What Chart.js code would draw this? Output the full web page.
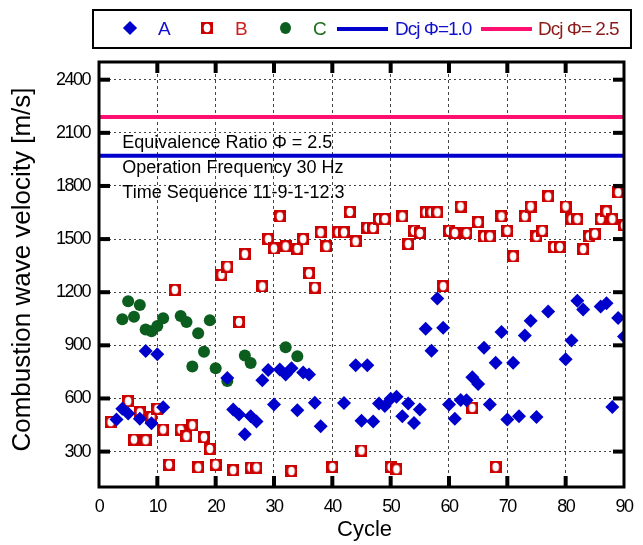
<!DOCTYPE html>
<html>
<head>
<meta charset="utf-8">
<script src="https://cdn.jsdelivr.net/npm/chart.js@4.4.1/dist/chart.umd.min.js"></script>
<style>
  body { margin: 0; background: #fff; }
  #wrap { position: relative; width: 643px; height: 545px; }
  #legend { position: absolute; left: 92px; top: 9px; width: 536px; height: 36px; border: 2px solid #000;
    font-family: "Liberation Sans", Arial, sans-serif; font-size: 19px; letter-spacing: -1px; }
  #legend span, #legend div { position: absolute; }
  #legend canvas { display: block; }
  .txt { top: 7px; line-height: 22px; white-space: nowrap; }
</style>
</head>
<body>
<div id="wrap">
  <canvas id="chart" width="643" height="545"></canvas>
  <div id="legend">
    <div style="left:31px;top:12px;width:10px;height:10px;background:#0000cc;transform:rotate(45deg);"></div>
    <span class="txt" style="left:64px;color:#1010cc;">A</span>
    <div id="legB" style="left:107px;top:11px;"></div>
    <span class="txt" style="left:141px;color:#cc2020;">B</span>
    <div style="left:186px;top:11px;width:11px;height:12px;border-radius:50%;background:#0b5e1e;"></div>
    <span class="txt" style="left:219px;color:#1a6e1a;">C</span>
    <div style="left:243px;top:16px;width:51px;height:4px;background:#0000cc;"></div>
    <span class="txt" style="left:301px;color:#1010cc;">Dcj &Phi;=1.0</span>
    <div style="left:387px;top:16px;width:51px;height:4px;background:#ff1070;"></div>
    <span class="txt" style="left:444px;color:#8b1a1a;">Dcj &Phi;= 2.5</span>
  </div>
</div>
<script>
const xTicks = [0, 10, 20, 30, 40, 50, 60, 70, 80, 90];
const yTicks = [300, 600, 900, 1200, 1500, 1800, 2100, 2400];

const cycleA = [3, 4, 5, 7, 8, 9, 10, 11, 22, 23, 24, 25, 26, 27, 28, 29, 30, 31, 32, 33, 34, 35, 36, 37, 38,
  42, 44, 45, 46, 47, 48, 49, 50, 51, 52, 53, 54, 55, 56, 57, 58, 59, 60, 61, 62, 63, 64, 65, 66, 67, 68, 69,
  70, 71, 72, 73, 74, 75, 77, 80, 81, 82, 83, 86, 87, 88, 89, 90];
const velA = [481, 542, 515, 485, 868, 460, 849, 550, 715, 538, 509, 398, 500, 470, 703, 761, 566, 764, 736, 770, 534, 747, 736, 576, 443,
  574, 787, 474, 787, 470, 572, 557, 598, 610, 500, 572, 462, 538, 994, 870, 1165, 1000, 566, 485, 592, 590, 720, 682, 887, 566, 801, 975,
  481, 802, 500, 956, 1039, 496, 1091, 822, 928, 1152, 1102, 1120, 1137, 552, 1055, 950];

const cycleB = [2, 5, 6, 7, 8, 9, 10, 11, 12, 13, 14, 15, 16, 17, 18, 19, 20, 21, 22, 23, 24, 25, 26, 27, 28, 29,
  30, 31, 32, 33, 34, 35, 36, 37, 38, 39, 40, 41, 42, 43, 44, 45, 46, 47, 48, 49, 50, 51, 52, 53, 54, 55, 56,
  57, 58, 59, 60, 61, 62, 63, 64, 65, 66, 67, 68, 69, 70, 71, 73, 74, 75, 76, 77, 78, 79, 80, 81, 82, 83, 84,
  85, 86, 87, 88, 89, 90];
const velB = [466, 585, 368, 522, 364, 496, 542, 424, 226, 1213, 424, 387, 449, 211, 381, 315, 226, 1298, 1345, 195, 1032, 1415, 210, 210, 1233, 1500,
  1447, 1628, 1459, 190, 1445, 1500, 1307, 1226, 1538, 1459, 213, 1538, 1538, 1653, 1487, 306, 1564, 1562, 1613, 1613, 213, 200, 1628, 1472, 1547, 1534, 1651,
  1651, 1651, 1234, 1547, 1534, 1684, 1534, 547, 1596, 1515, 1515, 213, 1628, 1547, 1402, 1628, 1684, 1515, 1547, 1741, 1455, 1455, 1684, 1613, 1613, 1443, 1515,
  1530, 1613, 1656, 1613, 1764, 1577];

const cycleC = [4, 5, 6, 7, 8, 9, 10, 11, 14, 15, 16, 17, 18, 19, 20, 22, 25, 26, 32, 34];
const velC = [1047, 1149, 1062, 1128, 989, 979, 1009, 1053, 1066, 1032, 781, 968, 864, 1041, 770, 698, 843, 800, 889, 839];

const dcjPhi10 = 1970;
const dcjPhi25 = 2190;
const cycleSpan = [0, 90];

const SANS = '"Liberation Sans", Arial, sans-serif';

// red square with a white hole, used for series B
function squareMark() {
  const c = document.createElement('canvas');
  c.width = 12; c.height = 12;
  const g = c.getContext('2d');
  g.fillStyle = '#cc0000';
  g.fillRect(0, 0, 12, 12);
  g.fillStyle = '#fff';
  g.beginPath();
  g.ellipse(6, 6, 3.3, 4.2, 0, 0, Math.PI * 2);
  g.fill();
  return c;
}
const markB = squareMark();
document.getElementById('legB').appendChild(squareMark());

const pts = (xs, ys) => xs.map((x, i) => ({ x: x, y: ys[i] }));

// tick labels in the original are tightly set, squeeze them a bit
const tight = {
  id: 'tight',
  beforeDraw(chart) { chart.ctx.letterSpacing = '-1.5px'; },
  afterDraw(chart) { chart.ctx.letterSpacing = '0px'; }
};

const frame = {
  id: 'frame',
  afterDraw(chart) {
    const { ctx, chartArea: a, scales: { x, y } } = chart;
    ctx.save();
    ctx.letterSpacing = '0px';
    ctx.fillStyle = '#000';
    xTicks.slice(1, -1).forEach(v => {
      const px = x.getPixelForValue(v);
      ctx.fillRect(px - 2, a.bottom - 11, 4, 11);
      ctx.fillRect(px - 2, a.top, 4, 11);
    });
    yTicks.forEach(v => {
      const py = y.getPixelForValue(v);
      ctx.fillRect(a.left, py - 2, 11, 4);
      ctx.fillRect(a.right - 11, py - 2, 11, 4);
    });
    ctx.strokeStyle = '#000';
    ctx.lineWidth = 3;
    ctx.strokeRect(a.left, a.top, a.right - a.left, a.bottom - a.top);

    ctx.font = '18px ' + SANS;
    ctx.textBaseline = 'middle';
    ctx.textAlign = 'left';
    const tx = x.getPixelForValue(4);
    ctx.fillText('Equivalence Ratio \u03A6 = 2.5', tx, a.top + 81);
    ctx.fillText('Operation Frequency 30 Hz', tx, a.top + 106);
    ctx.fillText('Time Sequence 11-9-1-12.3', tx, a.top + 131);

    // axis titles
    ctx.textAlign = 'center';
    ctx.font = '22px ' + SANS;
    ctx.fillText('Cycle', (a.left + a.right) / 2 + 3, 530);
    ctx.translate(23, (a.top + a.bottom) / 2 - 5);
    ctx.rotate(-Math.PI / 2);
    ctx.font = '26px ' + SANS;
    ctx.fillText('Combustion wave velocity [m/s]', 0, 0);
    ctx.restore();
  }
};

new Chart(document.getElementById('chart'), {
  type: 'scatter',
  data: {
    datasets: [
      { label: 'A', data: pts(cycleA, velA), pointStyle: 'rectRot', pointRadius: 7,
        backgroundColor: '#0000cc', borderColor: '#0000cc', borderWidth: 0 },
      { label: 'B', data: pts(cycleB, velB), pointStyle: markB, pointRadius: 6 },
      { label: 'C', data: pts(cycleC, velC), pointStyle: 'circle', pointRadius: 6,
        backgroundColor: '#0b5e1e', borderColor: '#0b5e1e', borderWidth: 0 },
      { label: 'Dcj \u03A6=1.0', type: 'line', data: pts(cycleSpan, [dcjPhi10, dcjPhi10]),
        borderColor: '#0000cc', borderWidth: 4, pointRadius: 0 },
      { label: 'Dcj \u03A6= 2.5', type: 'line', data: pts(cycleSpan, [dcjPhi25, dcjPhi25]),
        borderColor: '#ff1070', borderWidth: 4, pointRadius: 0 }
    ]
  },
  options: {
    responsive: false,
    animation: false,
    events: [],
    layout: { padding: { left: 0, top: 62, right: 18, bottom: 0 } },
    plugins: { legend: { display: false }, tooltip: { enabled: false } },
    scales: {
      x: {
        type: 'linear', min: 0, max: 90,
        afterBuildTicks: s => { s.ticks = xTicks.map(v => ({ value: v })); },
        afterFit: s => { s.height = 58; },
        ticks: { color: '#000', font: { family: SANS, size: 18 }, padding: 9, callback: v => String(v) },
        grid: { color: '#444', lineWidth: 1, drawTicks: false },
        border: { display: false, dash: [3, 3] }
      },
      y: {
        type: 'linear', min: 100, max: 2500,
        afterBuildTicks: s => { s.ticks = yTicks.map(v => ({ value: v })); },
        afterFit: s => { s.width = 99; },
        ticks: { color: '#000', font: { family: SANS, size: 18 }, padding: 9, callback: v => String(v) },
        grid: { color: '#444', lineWidth: 1, drawTicks: false },
        border: { display: false, dash: [2, 3] }
      }
    }
  },
  plugins: [tight, frame]
});
</script>
</body>
</html>
